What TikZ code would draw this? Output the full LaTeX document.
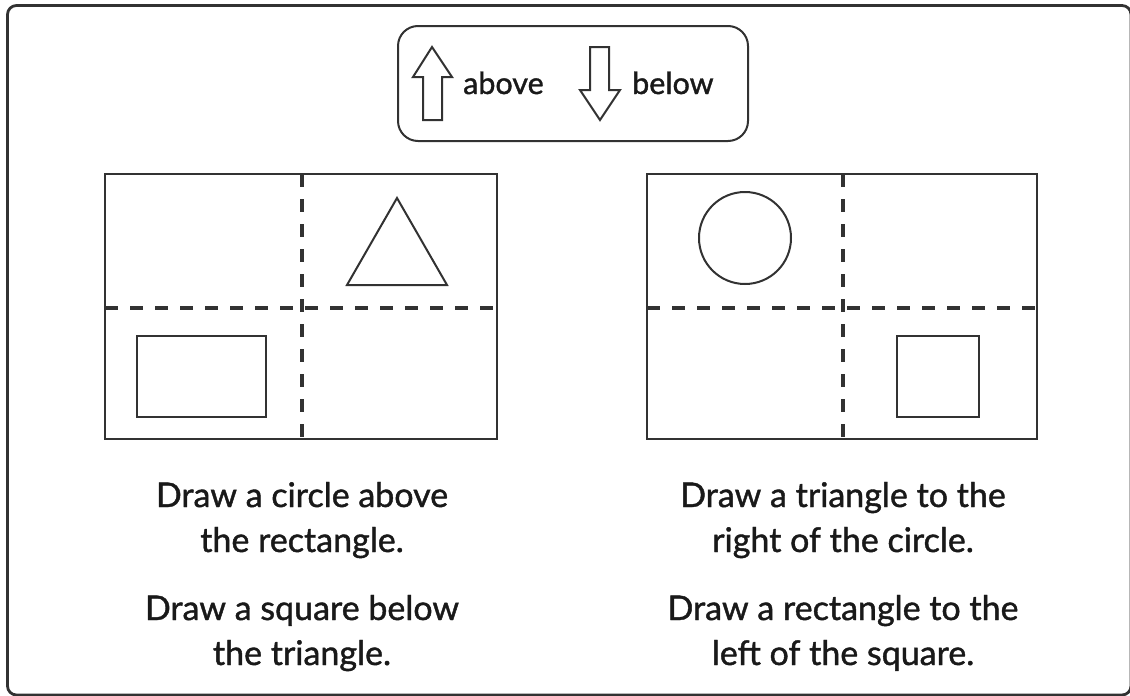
\documentclass[tikz,border=0pt]{standalone}
\usepackage{fontspec}
\setmainfont{Lato}
\newfontfamily\sheetfont[FakeBold=1.2]{Lato}
\definecolor{inkgray}{RGB}{50,50,50}
\definecolor{textdark}{RGB}{25,25,25}

\begin{document}
\begin{tikzpicture}[x=1pt, y=-1pt,
    frame/.style={line width=2.8pt, inkgray, rounded corners=9pt},
    panel/.style={line width=2pt, inkgray},
    divider/.style={line width=3.4pt, inkgray, dash pattern=on 13pt off 12pt},
    figure/.style={line width=2pt, inkgray},
    instr/.style={anchor=base, textdark, font=\sheetfont\fontsize{34}{45}\selectfont, inner sep=0pt},
    keyword/.style={anchor=base west, textdark, font=\sheetfont\fontsize{30.5}{45}\selectfont, inner sep=0pt}]
    \useasboundingbox (0,0) rectangle (1130,696);

    % Outer frame
    \draw[frame] (7.5,5.5) rectangle (1131,695);

    % Key box (above / below)
    \draw[panel, rounded corners=20pt] (398,26) rectangle (748,141);
    \draw[figure] (432,47) -- (452,77) -- (442,77) -- (442,120) -- (423,120) -- (423,77) -- (413,77) -- cycle;
    \node[keyword] (above) at (463,94) {above};
    \draw[figure] (590,47) -- (609,47) -- (609,90) -- (620,90) -- (600,120) -- (580,90) -- (590,90) -- cycle;
    \node[keyword] (below) at (632,94) {below};

    % Left grid
    \draw[panel] (105,174) rectangle (497,439);
    \draw[divider] (302,174) -- (302,439);
    \draw[divider] (105,308) -- (497,308);
    \draw[figure] (397,198) -- (447,285) -- (347,285) -- cycle;
    \draw[figure] (137,336) rectangle (266,417);

    % Right grid
    \draw[panel] (647,174) rectangle (1037,439);
    \draw[divider] (843,174) -- (843,439);
    \draw[divider] (647,308) -- (1037,308);
    \draw[figure] (745,238) circle (46);
    \draw[figure] (897,336) rectangle (979,417);

    % Instructions
    \node[instr] (leftA1) at (302,507) {Draw a circle above};
    \node[instr] (leftA2) at (302,552) {the rectangle.};
    \node[instr] (leftB1) at (302,620) {Draw a square below};
    \node[instr] (leftB2) at (302,665) {the triangle.};
    \node[instr] (rightA1) at (843,507) {Draw a triangle to the};
    \node[instr] (rightA2) at (843,552) {right of the circle.};
    \node[instr] (rightB1) at (843,620) {Draw a rectangle to the};
    \node[instr] (rightB2) at (843,665) {left of the square.};
\end{tikzpicture}
\end{document}
